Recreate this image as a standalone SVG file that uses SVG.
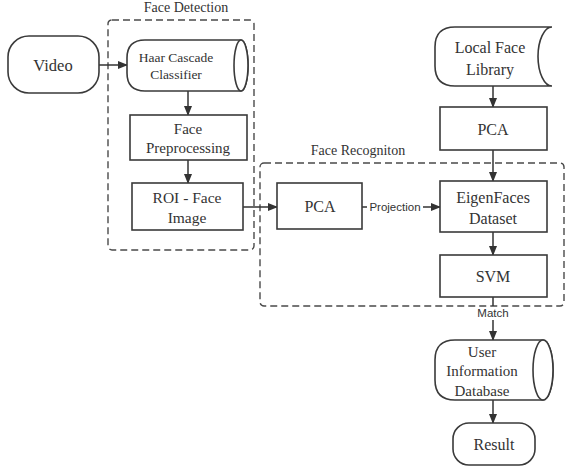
<svg xmlns="http://www.w3.org/2000/svg" width="571" height="474" viewBox="0 0 571 474">
<defs>
<style>
.n{fill:#fff;stroke:#3a3a3a;stroke-width:1.6}
.d{fill:none;stroke:#4a4a4a;stroke-width:1.4;stroke-dasharray:7 4}
.t{font-family:"Liberation Serif","Times New Roman",serif;fill:#333;text-anchor:middle}
.s{font-family:"Liberation Sans",Arial,sans-serif;fill:#333;text-anchor:middle;font-size:11.5px}
.c{fill:none;stroke:#333;stroke-width:1.5}
</style>
<marker id="ah" markerWidth="10" markerHeight="8" refX="9" refY="4" orient="auto" markerUnits="userSpaceOnUse">
<path d="M0,0 L10,4 L0,8 Z" fill="#333"/>
</marker>
</defs>
<rect width="571" height="474" fill="#fff"/>

<g id="face-detection">
<rect class="d" x="108" y="20" width="146" height="230" rx="4"/>
<text class="t" x="186" y="12" font-size="14">Face Detection</text>
</g>
<g id="face-recognition">
<rect class="d" x="260" y="163" width="304" height="143" rx="4"/>
<text class="t" x="358" y="155" font-size="14">Face Recogniton</text>
</g>

<g id="connectors">
<line class="c" x1="99" y1="65" x2="127" y2="65" marker-end="url(#ah)"/>
<line class="c" x1="188" y1="91" x2="188" y2="115" marker-end="url(#ah)"/>
<line class="c" x1="188" y1="160" x2="188" y2="183" marker-end="url(#ah)"/>
<line class="c" x1="243" y1="207" x2="277" y2="207" marker-end="url(#ah)"/>
<line class="c" x1="362" y1="207" x2="367" y2="207"/>
<line class="c" x1="423" y1="207" x2="440" y2="207" marker-end="url(#ah)"/>
<line class="c" x1="493" y1="86" x2="493" y2="107" marker-end="url(#ah)"/>
<line class="c" x1="493" y1="150" x2="493" y2="181" marker-end="url(#ah)"/>
<line class="c" x1="493" y1="232" x2="493" y2="255" marker-end="url(#ah)"/>
<line class="c" x1="493" y1="297" x2="493" y2="306"/>
<line class="c" x1="493" y1="320" x2="493" y2="340" marker-end="url(#ah)"/>
<line class="c" x1="493" y1="400" x2="493" y2="423" marker-end="url(#ah)"/>
<text class="s" x="395" y="211">Projection</text>
<text class="s" x="493" y="317">Match</text>
</g>

<g id="video">
<rect class="n" x="8" y="36" width="91" height="57" rx="21"/>
<text class="t" x="53" y="71" font-size="16.5">Video</text>
</g>
<g id="haar">
<path class="n" d="M145,40 H241 A7,25.5 0 0 1 241,91 H145 Q127,91 127,73 V58 Q127,40 145,40 Z"/>
<ellipse class="n" cx="241" cy="65.5" rx="7" ry="25.5"/>
<text class="t" x="176" y="62" font-size="13.5">Haar Cascade</text>
<text class="t" x="176" y="79" font-size="13.5">Classifier</text>
</g>
<g id="preprocessing">
<rect class="n" x="130" y="115" width="117" height="45"/>
<text class="t" x="188" y="134" font-size="15">Face</text>
<text class="t" x="188" y="153" font-size="15">Preprocessing</text>
</g>
<g id="roi">
<rect class="n" x="132" y="183" width="111" height="47"/>
<text class="t" x="187" y="203" font-size="15.5">ROI - Face</text>
<text class="t" x="187" y="223" font-size="15.5">Image</text>
</g>
<g id="pca-recog">
<rect class="n" x="277" y="183" width="85" height="46"/>
<text class="t" x="320" y="212" font-size="16">PCA</text>
</g>
<g id="library">
<path class="n" d="M455,27 H552 A14,29.5 0 0 0 552,86 H455 Q435,86 435,66 V47 Q435,27 455,27 Z"/>
<text class="t" x="490" y="53" font-size="16">Local Face</text>
<text class="t" x="490" y="75" font-size="16">Library</text>
</g>
<g id="pca-lib">
<rect class="n" x="440" y="107" width="107" height="43"/>
<text class="t" x="493" y="135" font-size="16">PCA</text>
</g>
<g id="eigenfaces">
<rect class="n" x="440" y="181" width="107" height="51"/>
<text class="t" x="493" y="203" font-size="16">EigenFaces</text>
<text class="t" x="493" y="224" font-size="16">Dataset</text>
</g>
<g id="svm">
<rect class="n" x="440" y="255" width="107" height="42"/>
<text class="t" x="493" y="282" font-size="16">SVM</text>
</g>
<g id="userdb">
<path class="n" d="M455,340 H543 A10,30 0 0 1 543,400 H455 Q435,400 435,380 V360 Q435,340 455,340 Z"/>
<ellipse class="n" cx="543" cy="370" rx="10" ry="30"/>
<text class="t" x="482" y="357" font-size="15">User</text>
<text class="t" x="482" y="376" font-size="15">Information</text>
<text class="t" x="482" y="396" font-size="15">Database</text>
</g>
<g id="result">
<rect class="n" x="453" y="423" width="82" height="42" rx="16"/>
<text class="t" x="494" y="450" font-size="16">Result</text>
</g>
</svg>
